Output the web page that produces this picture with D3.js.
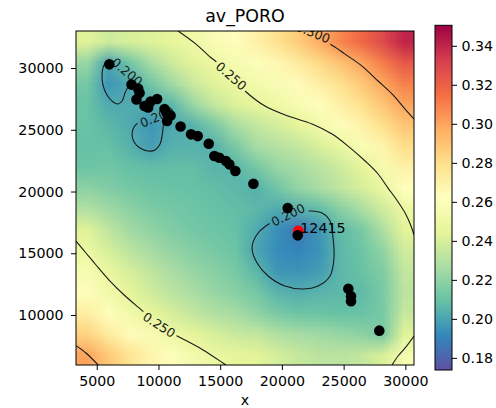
<!DOCTYPE html>
<html><head><meta charset="utf-8">
<script src="https://cdn.jsdelivr.net/npm/d3@7"></script>
<style>
body{margin:0;background:#fff;}
svg{font-family:"DejaVu Sans",sans-serif;}
</style></head><body>
<svg id="chart" width="496" height="408"></svg>
<script>
// ---------- data ----------
const chartTitle = "av_PORO";
const xLabel = "x";
const xTicks = [5000, 10000, 15000, 20000, 25000, 30000];
const yTicks = [10000, 15000, 20000, 25000, 30000];
const cbarTicks = [0.18, 0.20, 0.22, 0.24, 0.26, 0.28, 0.30, 0.32, 0.34];
const xDomain = [3320, 30700];
const yDomain = [5950, 33000];
const vDomain = [0.1738, 0.3505];
const spectralR = ["#5e4fa2","#3288bd","#66c2a5","#abdda4","#e6f598","#ffffbf","#fee08b","#fdae61","#f46d43","#d53e4f","#9e0142"];

// interpolated porosity field, cell centres (top row first)
const gridX = [4180, 5890, 7600, 9310, 11020, 12730, 14440, 16150, 17870, 19580, 21290, 23000, 24710, 26420, 28130, 29840];
const gridY = [32150, 30460, 28770, 27080, 25390, 23700, 22010, 20320, 18630, 16940, 15250, 13560, 11870, 10180, 8490, 6800];
const gridValues = [
 [0.243,0.237,0.240,0.242,0.246,0.251,0.257,0.263,0.270,0.278,0.287,0.297,0.308,0.317,0.328,0.340],
 [0.222,0.200,0.212,0.226,0.237,0.244,0.250,0.255,0.260,0.266,0.273,0.282,0.290,0.300,0.311,0.323],
 [0.213,0.196,0.201,0.212,0.224,0.236,0.243,0.249,0.253,0.257,0.264,0.271,0.279,0.288,0.299,0.310],
 [0.210,0.202,0.202,0.202,0.206,0.222,0.234,0.242,0.246,0.251,0.256,0.263,0.270,0.279,0.289,0.300],
 [0.210,0.206,0.202,0.196,0.201,0.204,0.214,0.226,0.234,0.239,0.245,0.253,0.261,0.269,0.279,0.289],
 [0.209,0.209,0.204,0.198,0.204,0.204,0.204,0.214,0.226,0.230,0.234,0.241,0.248,0.258,0.268,0.280],
 [0.211,0.212,0.209,0.208,0.208,0.208,0.205,0.205,0.213,0.222,0.226,0.231,0.237,0.245,0.255,0.270],
 [0.219,0.216,0.213,0.211,0.210,0.209,0.208,0.206,0.204,0.212,0.221,0.227,0.233,0.240,0.248,0.262],
 [0.229,0.224,0.219,0.215,0.213,0.211,0.209,0.208,0.206,0.202,0.204,0.208,0.218,0.227,0.238,0.250],
 [0.243,0.233,0.225,0.220,0.216,0.213,0.211,0.209,0.202,0.194,0.186,0.196,0.207,0.214,0.228,0.244],
 [0.249,0.240,0.232,0.226,0.221,0.217,0.214,0.211,0.200,0.193,0.191,0.195,0.206,0.211,0.220,0.238],
 [0.256,0.248,0.240,0.233,0.227,0.222,0.218,0.214,0.206,0.196,0.195,0.198,0.206,0.210,0.216,0.234],
 [0.263,0.253,0.245,0.238,0.232,0.227,0.222,0.218,0.213,0.205,0.203,0.205,0.206,0.207,0.214,0.232],
 [0.272,0.263,0.253,0.246,0.240,0.234,0.229,0.226,0.220,0.214,0.211,0.211,0.209,0.210,0.214,0.235],
 [0.284,0.273,0.264,0.257,0.250,0.245,0.240,0.236,0.234,0.229,0.226,0.224,0.222,0.219,0.214,0.243],
 [0.300,0.288,0.277,0.268,0.261,0.254,0.249,0.246,0.244,0.239,0.235,0.232,0.232,0.234,0.241,0.255]
];

// contour lines (vertices in data units)
const contour250a = [[11590,33000],[13040,31940],[14100,30970],[14910,30320],[15880,29350],[17010,28140],[18630,26920],[20500,26110],[22440,25470],[24060,24660],[25360,23680],[26740,22470],[27790,21420],[28600,20280],[29250,19390],[29980,18260],[30460,17210],[30700,16480]];
const contour250b = [[3320,15990],[4130,15020],[4940,14050],[6000,12830],[7130,11700],[8430,10570],[9480,9680],[10610,8790],[11830,8140],[13610,7170],[15230,6110],[15470,5950]];
const contour250c = [[30700,8300],[29980,7330],[29410,6680],[28920,5950]];
const contour300a = [[21150,33000],[21960,32670],[22930,32350],[23900,31940],[25110,31130],[26490,30160],[27790,28950],[28920,27900],[29980,26680],[30700,25870]];
const contour300b = [[3320,7520],[4130,6920],[5110,5950]];
const contour200a = [[6000,30650],[5590,30240],[5430,29430],[5510,28620],[5830,27810],[6320,27250],[6730,27090],[7050,27330],[7290,27980],[7540,28460],[7940,28620],[7540,29190],[6970,29840],[6400,30410]];
const contour200b = [[8510,25710],[8020,25220],[7860,24660],[8020,24010],[8510,23520],[9160,23280],[9720,23360],[10130,23850],[10290,24490],[10370,25140],[10370,25710],[9970,26030],[9320,26030],[8830,25950]];
const contour200c = [[19200,17530],[18070,16640],[17580,15430],[17990,14210],[18880,13160],[20250,12350],[21630,12110],[22930,12350],[23900,13160],[24220,14620],[24140,16240],[23900,17610],[23250,18260],[22280,18420],[21310,18340],[20250,18020]];
const openContours = [contour250a, contour250b, contour250c, contour300a, contour300b];
const closedContours = [contour200a, contour200b, contour200c];

// contour labels
const clabelText = ["0.250", "0.300", "0.200", "0.200", "0.200", "0.250"];
const clabelX = [15880, 22520, 7450, 9890, 20500, 10050];
const clabelY = [29350, 32870, 29680, 26030, 18100, 9190];
const clabelAngle = [41, 22, 40, -22, -26, 33];

// wells
const wellX = [6020,7820,8350,8470,8220,8870,9160,9360,9890,10490,10650,10980,10700,11790,12640,13180,14070,14530,14930,15470,15740,16230,17690,20470,21280,25380,25600,25600,27890];
const wellY = [30300,28660,28340,27980,27450,26920,26800,27290,27490,26680,26360,26150,25710,25260,24630,24490,23870,22880,22740,22470,22200,21660,20630,18660,16450,12130,11520,11110,8730];
const highlightX = [21330];
const highlightY = [16820];
const highlightLabel = ["12415"];

// ---------- drawing ----------
const svg = d3.select("#chart");
const L = 76, R = 414, T = 31, B = 365;
const x = d3.scaleLinear().domain(xDomain).range([L, R]);
const y = d3.scaleLinear().domain(yDomain).range([B, T]);
const vStops = d3.range(spectralR.length).map(i => vDomain[0] + i * (vDomain[1] - vDomain[0]) / (spectralR.length - 1));
const color = d3.scaleLinear().domain(vStops).range(spectralR).interpolate(d3.interpolateRgb).clamp(true);

const defs = svg.append("defs");
defs.append("clipPath").attr("id", "plotClip").append("rect")
  .attr("x", L).attr("y", T).attr("width", R - L).attr("height", B - T);

// heatmap: grid rendered as small image with replicated border, smoothly scaled
const nx = gridX.length, ny = gridY.length;
const cv = document.createElement("canvas");
cv.width = nx + 2; cv.height = ny + 2;
const ctx = cv.getContext("2d");
const img = ctx.createImageData(nx + 2, ny + 2);
for (let j = 0; j < ny + 2; j++) {
  for (let i = 0; i < nx + 2; i++) {
    const jj = Math.min(ny - 1, Math.max(0, j - 1)), ii = Math.min(nx - 1, Math.max(0, i - 1));
    const c = d3.rgb(color(gridValues[jj][ii]));
    const k = 4 * (j * (nx + 2) + i);
    img.data[k] = c.r; img.data[k + 1] = c.g; img.data[k + 2] = c.b; img.data[k + 3] = 255;
  }
}
ctx.putImageData(img, 0, 0);
const stepX = gridX[1] - gridX[0], stepY = gridY[0] - gridY[1];
const ix0 = x(gridX[0] - 1.5 * stepX), ix1 = x(gridX[nx - 1] + 1.5 * stepX);
const iy0 = y(gridY[0] + 1.5 * stepY), iy1 = y(gridY[ny - 1] - 1.5 * stepY);
svg.append("image")
  .attr("href", cv.toDataURL())
  .attr("x", ix0).attr("y", iy0)
  .attr("width", ix1 - ix0).attr("height", iy1 - iy0)
  .attr("preserveAspectRatio", "none")
  .style("image-rendering", "optimizeQuality")
  .attr("clip-path", "url(#plotClip)");

// contour labels first (to build mask)
const labelG = svg.append("g").attr("clip-path", "url(#plotClip)");
const mask = defs.append("mask").attr("id", "labelMask").attr("maskUnits", "userSpaceOnUse")
  .attr("x", 0).attr("y", 0).attr("width", 496).attr("height", 408);
mask.append("rect").attr("x", 0).attr("y", 0).attr("width", 496).attr("height", 408).attr("fill", "white");
clabelText.forEach((t, k) => {
  const tr = `translate(${x(clabelX[k])},${y(clabelY[k])}) rotate(${clabelAngle[k]})`;
  const g = labelG.append("g").attr("transform", tr);
  const txt = g.append("text").text(t)
    .attr("text-anchor", "middle").attr("dy", "0.35em")
    .attr("font-size", "12.5px").attr("fill", "#1a1a1a");
  const bb = txt.node().getBBox();
  mask.append("rect").attr("transform", tr)
    .attr("x", bb.x - 2.5).attr("y", -6).attr("width", bb.width + 5).attr("height", 12)
    .attr("fill", "black");
});

// contour lines
const lineOpen = d3.line().x(d => x(d[0])).y(d => y(d[1])).curve(d3.curveCatmullRom.alpha(0.5));
const lineClosed = d3.line().x(d => x(d[0])).y(d => y(d[1])).curve(d3.curveCatmullRomClosed.alpha(0.5));
const cg = svg.append("g").attr("clip-path", "url(#plotClip)").append("g").attr("mask", "url(#labelMask)");
openContours.forEach(c => cg.append("path").attr("d", lineOpen(c)).attr("fill", "none").attr("stroke", "#1a1a1a").attr("stroke-width", 1.1));
closedContours.forEach(c => cg.append("path").attr("d", lineClosed(c)).attr("fill", "none").attr("stroke", "#1a1a1a").attr("stroke-width", 1.1));

// highlighted well (red) then all wells (black)
svg.append("g").selectAll("circle").data(highlightX).join("circle")
  .attr("cx", (d, i) => x(d)).attr("cy", (d, i) => y(highlightY[i])).attr("r", 5.3).attr("fill", "#ff0000");
svg.append("g").selectAll("circle").data(wellX).join("circle")
  .attr("cx", (d, i) => x(d)).attr("cy", (d, i) => y(wellY[i])).attr("r", 5.3).attr("fill", "#000");
svg.append("g").selectAll("text").data(highlightLabel).join("text")
  .attr("x", (d, i) => x(highlightX[i]) + 2).attr("y", (d, i) => y(highlightY[i]) + 2.5)
  .attr("font-size", "14.2px").attr("fill", "#000").text(d => d);

// frame
svg.append("rect").attr("x", L).attr("y", T).attr("width", R - L).attr("height", B - T)
  .attr("fill", "none").attr("stroke", "#000").attr("stroke-width", 1);

// axes
const xAxis = svg.append("g").attr("transform", `translate(0,${B})`)
  .call(d3.axisBottom(x).tickValues(xTicks).tickFormat(d3.format("d")).tickSize(5).tickPadding(6));
const yAxis = svg.append("g").attr("transform", `translate(${L},0)`)
  .call(d3.axisLeft(y).tickValues(yTicks).tickFormat(d3.format("d")).tickSize(5).tickPadding(7.5));
[xAxis, yAxis].forEach(a => {
  a.select(".domain").remove();
  a.selectAll("text").attr("font-size", "14.2px").attr("font-family", "DejaVu Sans").attr("fill", "#000");
  a.selectAll("line").attr("stroke", "#000");
});

svg.append("text").attr("x", (L + R) / 2).attr("y", 22).attr("text-anchor", "middle")
  .attr("font-size", "17.4px").attr("fill", "#000").text(chartTitle);
svg.append("text").attr("x", (L + R) / 2).attr("y", 405).attr("text-anchor", "middle")
  .attr("font-size", "14.2px").attr("fill", "#000").text(xLabel);

// colorbar
const CL = 435, CR = 452, CT = 25.3, CB = 370;
const cy = d3.scaleLinear().domain(vDomain).range([CB, CT]);
const grad = defs.append("linearGradient").attr("id", "cbarGrad")
  .attr("x1", 0).attr("y1", 1).attr("x2", 0).attr("y2", 0);
vStops.forEach((v, i) => grad.append("stop")
  .attr("offset", (v - vDomain[0]) / (vDomain[1] - vDomain[0])).attr("stop-color", spectralR[i]));
svg.append("rect").attr("x", CL).attr("y", CT).attr("width", CR - CL).attr("height", CB - CT)
  .attr("fill", "url(#cbarGrad)").attr("stroke", "#000").attr("stroke-width", 1);
const cAxis = svg.append("g").attr("transform", `translate(${CR},0)`)
  .call(d3.axisRight(cy).tickValues(cbarTicks).tickFormat(d3.format(".2f")).tickSize(5).tickPadding(4.5));
cAxis.select(".domain").remove();
cAxis.selectAll("text").attr("font-size", "14.2px").attr("font-family", "DejaVu Sans").attr("fill", "#000");
cAxis.selectAll("line").attr("stroke", "#000");
</script>
</body></html>
